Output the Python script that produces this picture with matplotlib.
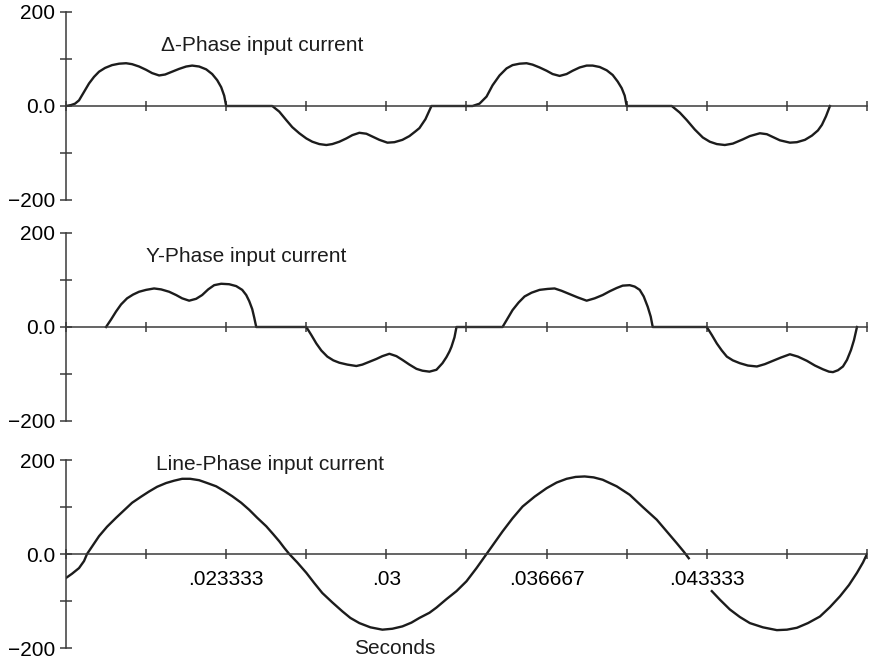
import numpy as np
import matplotlib
matplotlib.use('Agg')
from matplotlib import pyplot as plt

plt.rcParams['font.family'] = ['Liberation Sans', 'DejaVu Sans']

# time in ms, current in A
delta_t = [16.667, 16.875, 17.042, 17.208, 17.417, 17.625, 17.833, 18.042, 18.292, 18.583, 18.875,
           19.167, 19.417, 19.708, 20.000, 20.250, 20.542, 20.792, 21.083, 21.375, 21.667, 21.917,
           22.208, 22.500, 22.750, 22.958, 23.125, 23.250, 23.333,
           25.250, 25.542, 25.833, 26.083, 26.375, 26.667, 26.917, 27.208, 27.500, 27.750, 28.042,
           28.333, 28.583, 28.875, 29.167, 29.417, 29.708, 30.042, 30.333, 30.667, 30.958, 31.208,
           31.375, 31.625, 31.875,
           33.583, 33.875, 34.167, 34.417, 34.708, 35.000, 35.250, 35.542, 35.833, 36.083, 36.375,
           36.667, 36.917, 37.208, 37.500, 37.750, 38.042, 38.333, 38.583, 38.875, 39.167, 39.417,
           39.625, 39.792, 39.917, 40.000,
           41.875, 42.208, 42.500, 42.833, 43.167, 43.458, 43.750, 44.083, 44.417, 44.833, 45.125,
           45.542, 45.833, 46.083, 46.375, 46.792, 47.083, 47.417, 47.708, 47.958, 48.125, 48.292,
           48.458]
delta_i = [0, 2, 5, 12, 30, 48, 62, 73, 81, 87, 90,
           91, 89, 84, 77, 70, 65, 67, 73, 79, 84, 86,
           84, 78, 68, 55, 40, 22, 0,
           0, -12, -30, -45, -58, -69, -76, -81, -83, -81, -76,
           -69, -62, -57, -59, -65, -72, -78, -77, -72, -64, -54,
           -47, -28, 0,
           0, 5, 20, 44, 65, 80, 87, 90, 91, 88, 82,
           75, 68, 64, 68, 75, 82, 86, 86, 83, 76, 66,
           52, 38, 22, 0,
           0, -14, -30, -50, -67, -76, -81, -83, -80, -71, -64,
           -58, -60, -66, -73, -78, -77, -72, -63, -52, -40, -22,
           0]

wye_t = [18.333, 18.542, 18.750, 18.958, 19.208, 19.458, 19.708, 20.000, 20.333, 20.625, 20.958,
         21.250, 21.500, 21.792, 22.083, 22.333, 22.583, 22.833, 23.125, 23.458, 23.750, 24.000,
         24.167, 24.292, 24.417, 24.500, 24.583,
         26.667, 26.875, 27.083, 27.292, 27.542, 27.792, 28.042, 28.375, 28.750, 29.000, 29.292,
         29.583, 29.833, 30.125, 30.417, 30.667, 30.958, 31.250, 31.500, 31.792, 32.083, 32.333,
         32.500, 32.625, 32.708, 32.833, 32.917,
         34.833, 35.042, 35.250, 35.500, 35.750, 36.042, 36.375, 36.708, 37.000, 37.292, 37.625,
         37.958, 38.333, 38.667, 39.000, 39.292, 39.583, 39.833, 40.125, 40.333, 40.542, 40.708,
         40.875, 41.000, 41.083,
         43.333, 43.542, 43.750, 43.958, 44.167, 44.417, 44.708, 45.042, 45.417, 45.750, 46.083,
         46.417, 46.792, 47.125, 47.500, 47.833, 48.167, 48.417, 48.583, 48.792, 49.000, 49.167,
         49.333, 49.458, 49.583]
wye_i = [0, 16, 33, 48, 61, 69, 75, 79, 82, 80, 75,
         68, 61, 56, 60, 68, 80, 89, 92, 91, 87, 79,
         68, 55, 38, 20, 0,
         0, -17, -35, -50, -63, -71, -76, -80, -83, -80, -74,
         -68, -62, -57, -62, -70, -80, -89, -93, -95, -91, -77,
         -64, -52, -42, -22, 0,
         0, 18, 36, 52, 65, 73, 79, 81, 82, 77, 70,
         63, 56, 61, 68, 76, 83, 88, 89, 86, 79, 65,
         43, 22, 0,
         0, -17, -35, -50, -63, -71, -77, -82, -84, -79, -72,
         -65, -58, -63, -72, -82, -90, -95, -96, -92, -84, -70,
         -49, -28, 0]

line_t = [16.667, 16.917, 17.208, 17.417, 17.542, 17.792, 18.042, 18.375, 18.750, 19.083, 19.417,
          19.792, 20.125, 20.458, 20.833, 21.167, 21.500, 21.833, 22.208, 22.542, 22.917, 23.250,
          23.583, 23.958, 24.292, 24.625, 25.000, 25.292, 25.542, 25.750, 25.958, 26.292, 26.667,
          27.000, 27.333, 27.750, 28.167, 28.500, 28.875, 29.333, 29.833, 30.250, 30.667, 31.042,
          31.375, 31.792, 32.083, 32.500, 32.917, 33.333, 33.750, 34.167, 34.500, 34.833, 35.250,
          35.667, 36.167, 36.667, 37.083, 37.500, 37.875, 38.250, 38.625, 39.000, 39.583, 40.125,
          40.667, 41.250, 41.667, 42.083, 42.375, 42.583, np.nan,
          43.542, 43.875, 44.292, 44.708, 45.125, 45.667, 46.250, 46.667, 47.083, 47.542, 48.042,
          48.458, 48.875, 49.250, 49.583, 49.833, 50.000]
line_i = [-51, -42, -30, -15, 0, 19, 38, 58, 77, 93, 109,
          122, 133, 143, 151, 156, 160, 160, 157, 151, 144, 134,
          123, 109, 94, 77, 59, 42, 27, 13, 0, -18, -40,
          -62, -83, -103, -122, -136, -147, -156, -161, -159, -154, -146,
          -136, -125, -114, -96, -79, -58, -30, 0, 24, 48, 76,
          101, 122, 140, 152, 160, 164, 165, 163, 158, 144, 126,
          100, 73, 48, 23, 5, -9, np.nan,
          -79, -97, -118, -134, -147, -156, -162, -161, -157, -147, -133,
          -113, -90, -66, -40, -18, 0]

titles = ['\u0394-Phase input current', 'Y-Phase input current', 'Line-Phase input current']
title_pos = [(20.625, 128), (20.0, 149), (20.417, 191)]
xtick_ms = np.arange(5, 16) / 300 * 1000
xtick_labels = ['', '', '.023333', '', '.03', '', '.036667', '', '.043333', '', '']
yticks = [-200, -100, 0, 100, 200]
ytick_labels = ['\u2212200', '', '0.0', '', '200']

fig = plt.figure(figsize=(8.74, 6.6), dpi=100)
W, H = 874, 660
panels = [(12, 200), (233, 421), (460, 648)]
series = [(delta_t, delta_i), (wye_t, wye_i), (line_t, line_i)]
ink = '#1c1c1c'
axc = '#3a3a3a'

for k, ((top, bot), (t, i)) in enumerate(zip(panels, series)):
    ax = fig.add_axes([66 / W, 1 - bot / H, 801 / W, (bot - top) / H])
    ax.plot(np.array(t) / 1000, i, color=ink, lw=1.7, solid_joinstyle='round')
    ax.set_xlim(1 / 60, 0.05)
    ax.set_ylim(-200, 200)
    for s in ['top', 'right']:
        ax.spines[s].set_visible(False)
    ax.spines['bottom'].set_position(('data', 0))
    ax.spines['bottom'].set_color(axc)
    ax.spines['left'].set_color(axc)
    ax.spines['bottom'].set_linewidth(1.1)
    ax.spines['left'].set_linewidth(1.1)
    ax.set_xticks(xtick_ms / 1000)
    if k == 2:
        ax.set_xticklabels(xtick_labels)
    else:
        ax.set_xticklabels([''] * len(xtick_ms))
    ax.set_yticks(yticks)
    ax.set_yticklabels(ytick_labels)
    ax.tick_params(axis='x', direction='inout', length=7, width=1.1, color=axc,
                   labelsize=15, pad=8)
    ax.tick_params(axis='y', direction='inout', length=8, width=1.1, color=axc,
                   labelsize=15, pad=4)
    ax.patch.set_alpha(0)
    ax.text(title_pos[k][0] / 1000, title_pos[k][1], titles[k], fontsize=15,
            ha='left', va='center', color=ink)
    if k == 2:
        ax.text(30.33 / 1000, -200, 'Seconds', fontsize=15, ha='center', va='center',
                color=ink, clip_on=False)

fig.savefig('out.png', dpi=100)
